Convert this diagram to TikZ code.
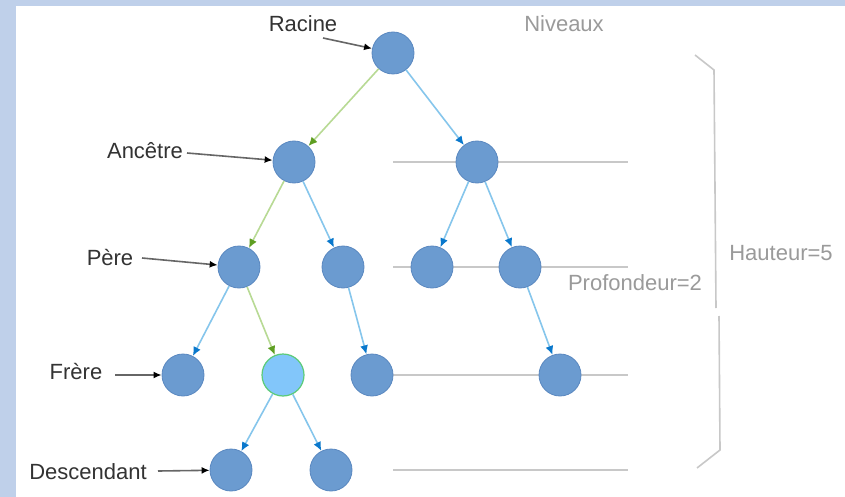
\documentclass[tikz,border=0pt]{standalone}
\usepackage{fontspec}
\setmainfont{Liberation Sans}
\usetikzlibrary{arrows.meta}
\definecolor{bgblue}{HTML}{BFD0EA}
\definecolor{nodefill}{HTML}{6B9BD0}
\definecolor{nodeborder}{HTML}{5A88C0}
\definecolor{curfill}{HTML}{82C6FA}
\definecolor{curborder}{HTML}{5CCB78}
\definecolor{bedge}{HTML}{86C6EC}
\definecolor{btip}{HTML}{0A78CC}
\definecolor{gedge}{HTML}{B8DA94}
\definecolor{gtip}{HTML}{5E9E22}
\definecolor{levelgray}{HTML}{C8C8C8}
\definecolor{labeldark}{HTML}{333333}
\definecolor{labelgray}{HTML}{9A9A9A}
\tikzset{
  treenode/.style={circle, minimum size=42pt, inner sep=0pt, fill=nodefill, draw=nodeborder, line width=0.8pt},
  curnode/.style={treenode, fill=curfill, draw=curborder, line width=1.2pt},
  blueedge/.style={draw=bedge, line width=1.6pt, -{Latex[length=9pt,width=8pt,color=btip]}},
  greenedge/.style={draw=gedge, line width=1.6pt, -{Latex[length=9pt,width=8pt,color=gtip]}},
  levelline/.style={draw=levelgray, line width=2pt},
  bracestyle/.style={draw=levelgray, line width=1.6pt},
  darklabel/.style={text=labeldark, font=\fontsize{22}{24}\selectfont, inner sep=0pt},
  graylabel/.style={text=labelgray, font=\fontsize{22}{24}\selectfont, inner sep=0pt},
  pointer/.style={draw=gray!80!black, line width=1.6pt, -{Latex[length=8pt,width=7pt,color=black]}},
}
\begin{document}
\begin{tikzpicture}[x=1pt, y=-1pt]
\fill[bgblue] (0,0) rectangle (845,497);
\fill[white] (16,6) rectangle (845,497);
\useasboundingbox (0,0) rectangle (845,497);

% level lines
\draw[levelline] (393,162) coordinate (l1a) -- (628,162) coordinate (l1b);
\draw[levelline] (393,267) coordinate (l2a) -- (628,267) coordinate (l2b);
\draw[levelline] (393,375) coordinate (l3a) -- (628,375) coordinate (l3b);
\draw[levelline] (393,470) coordinate (l4a) -- (628,470) coordinate (l4b);

% nodes
\node[treenode] (root) at (393,53) {};
\node[treenode] (anc) at (294,162) {};
\node[treenode] (r1) at (477,162) {};
\node[treenode] (pere) at (239,267) {};
\node[treenode] (n2) at (343,267) {};
\node[treenode] (r2a) at (432,267) {};
\node[treenode] (r2b) at (520,267) {};
\node[treenode] (frere) at (183,375) {};
\node[curnode] (cur) at (283,375) {};
\node[treenode] (n3) at (372,375) {};
\node[treenode] (r3) at (560,375) {};
\node[treenode] (desc) at (231,470) {};
\node[treenode] (d2) at (331,470) {};

% edges
\draw[greenedge] (root) -- (anc);
\draw[blueedge] (root) -- (r1);
\draw[greenedge] (anc) -- (pere);
\draw[blueedge] (anc) -- (n2);
\draw[blueedge] (r1) -- (r2a);
\draw[blueedge] (r1) -- (r2b);
\draw[blueedge] (pere) -- (frere);
\draw[greenedge] (pere) -- (cur);
\draw[blueedge] (n2) -- (n3);
\draw[blueedge] (r2b) -- (r3);
\draw[blueedge] (cur) -- (desc);
\draw[blueedge] (cur) -- (d2);

% labels
\node[darklabel] (lracine) at (303,24) {Racine};
\node[graylabel] (lniv) at (564,24) {Niveaux};
\node[darklabel] (lanc) at (145,151) {Ancêtre};
\node[darklabel] (lpere) at (110,258) {Père};
\node[darklabel] (lfrere) at (76,372) {Frère};
\node[darklabel] (ldesc) at (88,472) {Descendant};
\node[graylabel] (lprof) at (635,283) {Profondeur=2};
\node[graylabel] (lhaut) at (781,253) {Hauteur=5};

% pointers
\coordinate (pr) at (323,38);
\coordinate (pa) at (187,153);
\coordinate (pp) at (142,258);
\coordinate (pf) at (115,375);
\coordinate (pd) at (158,471);
\draw[pointer] (pr) -- (root);
\draw[pointer] (pa) -- (anc);
\draw[pointer] (pp) -- (pere);
\draw[pointer] (pf) -- (frere);
\draw[pointer] (pd) -- (desc);

% brace
\coordinate (b1) at (695,55);
\coordinate (b2) at (714,70);
\coordinate (b3) at (716,308);
\coordinate (b4) at (719,316);
\coordinate (b5) at (720,450);
\coordinate (b6) at (697,468);
\draw[bracestyle] (b1) -- (b2) -- (b3);
\draw[bracestyle] (b4) -- (b5) -- (b6);
\end{tikzpicture}
\end{document}
